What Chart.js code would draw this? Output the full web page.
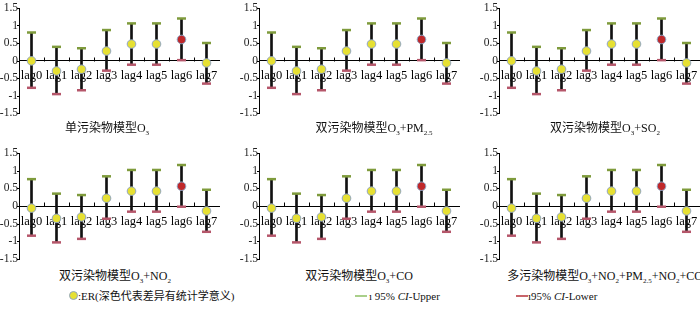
<!DOCTYPE html>
<html>
<head>
<meta charset="utf-8">
<script src="https://cdn.jsdelivr.net/npm/chart.js@4"></script>
<style>
body { margin: 0; width: 700px; height: 311px; position: relative; overflow: hidden; background: #fff;
  font-family: "Liberation Serif", "Noto Sans CJK SC", serif; color: #111; }
canvas { position: absolute; }
.t { position: absolute; font-size: 12px; line-height: 14px; white-space: nowrap; transform: translateX(-50%); }
.lg { position: absolute; font-size: 11px; line-height: 14px; white-space: nowrap; }
sub { font-size: 7px; vertical-align: -3px; line-height: 0; }
.dot { position: absolute; width: 7px; height: 7px; border-radius: 50%; background: #e6e033; border: 1px solid #8fa4c4; }
.bar { position: absolute; height: 2px; }
</style>
</head>
<body>
<canvas id="c1" width="226" height="121" style="left:0;top:0"></canvas>
<canvas id="c2" width="226" height="121" style="left:240px;top:0"></canvas>
<canvas id="c3" width="226" height="121" style="left:480px;top:0"></canvas>
<canvas id="c4" width="226" height="122" style="left:0;top:145px"></canvas>
<canvas id="c5" width="226" height="122" style="left:240px;top:145px"></canvas>
<canvas id="c6" width="226" height="122" style="left:480px;top:145px"></canvas>

<div class="t" style="left:107px;top:121px">单污染物模型O<sub>3</sub></div>
<div class="t" style="left:374px;top:121px">双污染物模型O<sub>3</sub>+PM<sub>2.5</sub></div>
<div class="t" style="left:605px;top:121px">双污染物模型O<sub>3</sub>+SO<sub>2</sub></div>
<div class="t" style="left:115px;top:269px">双污染物模型O<sub>3</sub>+NO<sub>2</sub></div>
<div class="t" style="left:359px;top:269px">双污染物模型O<sub>3</sub>+CO</div>
<div class="t" style="left:605px;top:269px">多污染物模型O<sub>3</sub>+NO<sub>2</sub>+PM<sub>2.5</sub>+NO<sub>2</sub>+CO</div>

<div class="dot" style="left:69px;top:291px"></div>
<div class="lg" style="left:78px;top:289px">:ER(深色代表差异有统计学意义)</div>
<div class="bar" style="left:355px;top:295px;width:12px;background:#a9cf8a"></div>
<div class="lg" style="left:369px;top:289px">ı 95% <i>CI</i>-Upper</div>
<div class="bar" style="left:516px;top:295px;width:12px;background:#c8646a"></div>
<div class="lg" style="left:528px;top:289px">ı95% <i>CI</i>-Lower</div>

<script>
var lags = ['lag0', 'lag1', 'lag2', 'lag3', 'lag4', 'lag5', 'lag6', 'lag7'];
var yTicks = [-1.5, -1, -0.5, 0, 0.5, 1, 1.5];
var significant = [false, false, false, false, false, false, true, false];

// top row: O3, O3+PM2.5, O3+SO2
var erTop = [-0.01, -0.30, -0.25, 0.27, 0.47, 0.47, 0.60, -0.07];
var upperTop = [0.80, 0.39, 0.35, 0.87, 1.06, 1.06, 1.20, 0.50];
var lowerTop = [-0.78, -0.96, -0.85, -0.29, -0.12, -0.12, 0.01, -0.66];

// bottom row: O3+NO2, O3+CO, multi-pollutant
var erBottom = [-0.06, -0.35, -0.31, 0.22, 0.42, 0.42, 0.56, -0.14];
var upperBottom = [0.76, 0.35, 0.31, 0.84, 1.02, 1.02, 1.16, 0.46];
var lowerBottom = [-0.84, -1.03, -0.93, -0.36, -0.16, -0.16, -0.02, -0.73];

var xFont = { family: '"Liberation Serif", serif', size: 12.5 };
var yFont = { family: '"Liberation Serif", serif', size: 11.5 };

// tick marks: y ticks just left of the axis, x ticks pointing up between categories
var axisTicks = {
  id: 'axisTicks',
  afterDraw: function(chart) {
    var c = chart.ctx, x = chart.scales.x, y = chart.scales.y;
    var y0 = Math.round(y.getPixelForValue(0)) + 0.5;
    c.save();
    c.strokeStyle = '#000';
    c.lineWidth = 1;
    c.beginPath();
    yTicks.forEach(function(v) {
      var p = Math.round(y.getPixelForValue(v)) + 0.5;
      c.moveTo(x.left - 2, p);
      c.lineTo(x.left + 1, p);
    });
    for (var i = 1; i < lags.length; i++) {
      var px = Math.round((x.getPixelForValue(i - 1) + x.getPixelForValue(i)) / 2) + 0.5;
      c.moveTo(px, y0);
      c.lineTo(px, y0 - 4);
    }
    c.stroke();
    c.restore();
  }
};

function makeChart(id, er, upper, lower) {
  var ctx = document.getElementById(id).getContext('2d');
  return new Chart(ctx, {
    type: 'bar',
    data: {
      labels: lags,
      datasets: [{
        type: 'line',
        data: er,
        showLine: false,
        pointRadius: 4.3,
        pointBorderWidth: 1,
        pointBackgroundColor: significant.map(function(s) { return s ? '#c0282a' : '#e6e033'; }),
        pointBorderColor: '#8fa4c4',
        order: 0
      }, {
        type: 'line',
        data: upper,
        showLine: false,
        pointStyle: 'line',
        pointRadius: 4.5,
        pointBorderWidth: 2.5,
        pointBorderColor: '#7f9b3c',
        order: 1
      }, {
        type: 'line',
        data: lower,
        showLine: false,
        pointStyle: 'line',
        pointRadius: 4.5,
        pointBorderWidth: 2.5,
        pointBorderColor: '#b5566a',
        order: 1
      }, {
        data: lower.map(function(l, i) { return [l, upper[i]]; }),
        backgroundColor: '#111',
        barThickness: 2,
        order: 2
      }]
    },
    options: {
      responsive: false,
      animation: false,
      layout: { padding: { top: 8, bottom: 8, left: 0, right: 2 } },
      plugins: { legend: { display: false }, tooltip: { enabled: false } },
      scales: {
        x: {
          position: { y: 0 },
          grid: { display: false, drawTicks: false },
          border: { display: true, color: '#000', width: 1 },
          ticks: { font: xFont, color: '#000', padding: 8, autoSkip: false, maxRotation: 0 },
          afterFit: function(s) { s.height = 0; }
        },
        y: {
          min: -1.5, max: 1.5,
          grid: { display: false, drawTicks: false },
          border: { display: true, color: '#000', width: 1 },
          ticks: {
            font: yFont, color: '#222', padding: 1, stepSize: 0.5, autoSkip: false,
            callback: function(v) { return String(v); }
          },
          afterFit: function(s) { s.width = 19; }
        }
      }
    },
    plugins: [axisTicks]
  });
}

makeChart('c1', erTop, upperTop, lowerTop);
makeChart('c2', erTop, upperTop, lowerTop);
makeChart('c3', erTop, upperTop, lowerTop);
makeChart('c4', erBottom, upperBottom, lowerBottom);
makeChart('c5', erBottom, upperBottom, lowerBottom);
makeChart('c6', erBottom, upperBottom, lowerBottom);
</script>
</body>
</html>
